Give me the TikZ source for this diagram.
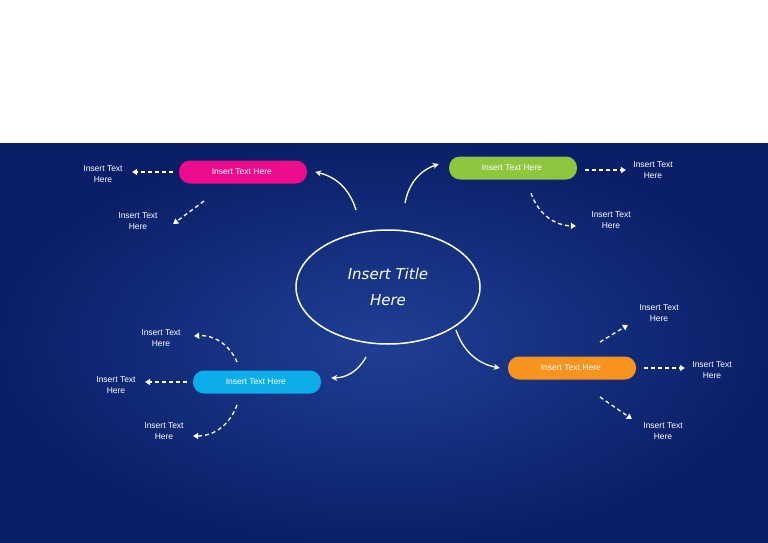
\documentclass[tikz,border=0pt]{standalone}
\usepackage{fontspec}
\setmainfont{Liberation Sans}
\newfontfamily\titlefont{DejaVu Sans}
\usetikzlibrary{shapes.geometric,arrows.meta}
\definecolor{bgin}{HTML}{1F3F94}
\definecolor{bgout}{HTML}{0A1F68}
\definecolor{pinkbox}{HTML}{EC0C8C}
\definecolor{greenbox}{HTML}{8DC63F}
\definecolor{cyanbox}{HTML}{0BAEEA}
\definecolor{orangebox}{HTML}{F7941D}
\tikzset{
  topic box/.style = {
    shape = rectangle,
    align = center,
    fill  = #1,
    text  = white,
    font  = \fontsize{8.5}{9}\selectfont,
    minimum width = 128pt,
    minimum height = 23pt,
    rounded corners = 11pt},
  leaf/.style = {
    align = center,
    text  = white,
    font  = \fontsize{8.5}{11}\selectfont},
  main link/.style = {draw = white, line width = 1.3pt, -{Stealth[length=6pt,width=6pt]}},
  leaf link/.style = {draw = white, line width = 1.3pt, dash pattern = on 4pt off 3pt,
    -{Triangle[length=5pt,width=6pt]}}
}
\begin{document}
\begin{tikzpicture}[x = 1pt, y = -1pt]
  \useasboundingbox (0,0) rectangle (768,543);
  \shade[inner color = bgin, outer color = bgout] (0,143) rectangle (768,543);
  \node[draw = white, line width = 1.5pt, ellipse, minimum width = 184pt, minimum height = 114pt,
        text = white, align = center, font = \titlefont\itshape\fontsize{15}{18}\selectfont] (title) at (388,287)
        { Insert Title \\[8pt] Here };
  \node[topic box = pinkbox] (pink) at (243,172) { Insert Text Here };
  \node[topic box = greenbox] (green) at (513,168) { Insert Text Here };
  \node[topic box = cyanbox] (cyan) at (257,382) { Insert Text Here };
  \node[topic box = orangebox] (orange) at (572,368) { Insert Text Here };
  \node[leaf] (pinkleft) at (103,174) { Insert Text \\ Here };
  \node[leaf] (pinkdown) at (138,221) { Insert Text \\ Here };
  \node[leaf] (greenright) at (653,170) { Insert Text \\ Here };
  \node[leaf] (greendown) at (611,220) { Insert Text \\ Here };
  \node[leaf] (cyanup) at (161,338) { Insert Text \\ Here };
  \node[leaf] (cyanleft) at (116,385) { Insert Text \\ Here };
  \node[leaf] (cyandown) at (164,431) { Insert Text \\ Here };
  \node[leaf] (orangeup) at (659,313) { Insert Text \\ Here };
  \node[leaf] (orangeright) at (712,370) { Insert Text \\ Here };
  \node[leaf] (orangedown) at (663,431) { Insert Text \\ Here };
  % free ends of the links
  \coordinate (t1) at (356,210);
  \coordinate (t2) at (405,203);
  \coordinate (t3) at (366,357);
  \coordinate (t4) at (456,330);
  \coordinate (p1) at (204,201);
  \coordinate (g1) at (531,193);
  \coordinate (c1) at (237,362);
  \coordinate (c2) at (237,405);
  \coordinate (o1) at (600,342);
  \coordinate (o2) at (600,397);
  \draw[main link] (t1) to[bend right = 30] ([xshift = 8pt]pink.east);
  \draw[main link] (t2) to[bend left = 30] ([xshift = -10pt, yshift = 4pt]green.west);
  \draw[main link] (t3) to[bend left = 30] ([xshift = 10pt, yshift = 4pt]cyan.east);
  \draw[main link] (t4) to[bend right = 30] ([xshift = -8pt]orange.west);
  \draw[leaf link] ([xshift = -6pt]pink.west) -- ([xshift = 6pt]pinkleft.east |- pink.west);
  \draw[leaf link] (p1) -- ([xshift = 12pt, yshift = -3pt]pinkdown.east);
  \draw[leaf link] ([xshift = 8pt, yshift = -2pt]green.east) -- ([xshift = -4pt, yshift = -2pt]greenright.west |- green.east);
  \draw[leaf link] (g1) to[bend right = 35] ([xshift = -12pt, yshift = -6pt]greendown.west);
  \draw[leaf link] (c1) to[bend right = 35] ([xshift = 10pt, yshift = 2pt]cyanup.east);
  \draw[leaf link] ([xshift = -6pt]cyan.west) -- ([xshift = 6pt]cyanleft.east |- cyan.west);
  \draw[leaf link] (c2) to[bend left = 35] ([xshift = 6pt, yshift = -5pt]cyandown.east);
  \draw[leaf link] (o1) -- ([xshift = -8pt]orangeup.south west);
  \draw[leaf link] ([xshift = 8pt]orange.east) -- ([xshift = -4pt]orangeright.west |- orange.east);
  \draw[leaf link] (o2) -- ([xshift = -8pt]orangedown.north west);
\end{tikzpicture}
\end{document}
